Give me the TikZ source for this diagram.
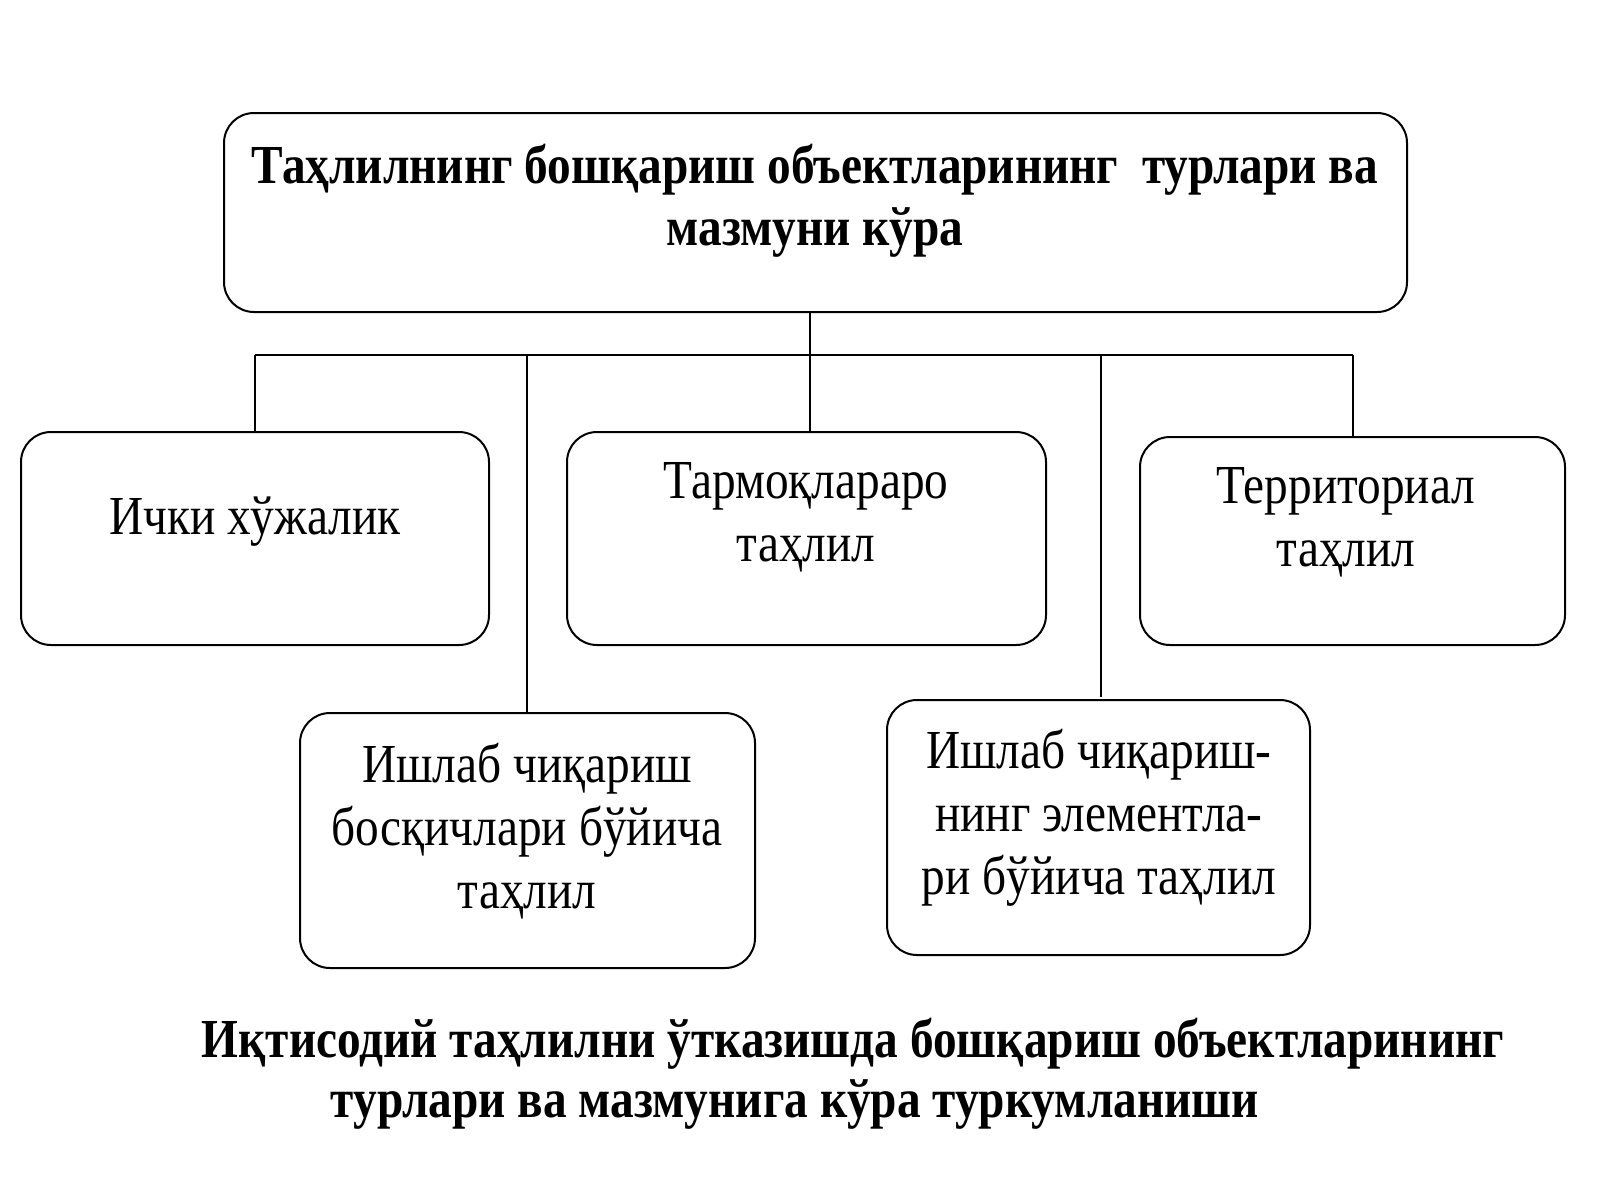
\documentclass[tikz,border=0pt]{standalone}
\usepackage{fontspec}
\setmainfont{Liberation Serif}[FakeStretch=0.86]
\begin{document}
\begin{tikzpicture}[x=1pt,y=-1pt,
 box/.style={draw,line width=2pt,rounded corners=30pt},
 ln/.style={line width=2pt},
 txt/.style={align=center,font=\fontsize{55}{63}\selectfont},
 btxt/.style={align=center,font=\bfseries\fontsize{55}{62}\selectfont}]
\useasboundingbox (0,0) rectangle (1600,1200);
\draw[box] (224,113) rectangle (1407,312);
\node[btxt] (t) at (815,201) {Таҳлилнинг бошқариш объектларининг\ \ турлари ва\\мазмуни кўра};
\draw[box] (21,432) rectangle (489,645);
\node[txt] (a) at (255,522) {Ички хўжалик};
\draw[box] (567,432) rectangle (1046,645);
\node[txt] (b) at (806,517) {Тармоқлараро\\таҳлил};
\draw[box] (1140,437) rectangle (1565,645);
\node[txt] (c) at (1346,522) {Территориал\\таҳлил};
\draw[box] (300,713) rectangle (755,968);
\node[txt] (d) at (527,831) {Ишлаб чиқариш\\босқичлари бўйича\\таҳлил};
\draw[box] (887,700) rectangle (1310,955);
\node[txt] (e) at (1099,818) {Ишлаб чиқариш-\\нинг элементла-\\ри бўйича таҳлил};
\coordinate (h1) at (255,355); \coordinate (h2) at (1353,355);
\draw[ln] (h1) -- (h2);
\draw[ln] (810,312) -- (810,432);
\draw[ln] (255,355) -- (255,432);
\draw[ln] (1353,355) -- (1353,437);
\draw[ln] (527,355) -- (527,713);
\draw[ln] (1101,355) -- (1101,697);
\node[btxt,anchor=base] (cap1) at (853,1057) {Иқтисодий таҳлилни ўтказишда бошқариш объектларининг};
\node[btxt,anchor=base] (cap2) at (795,1117) {турлари ва мазмунига кўра туркумланиши};
\end{tikzpicture}
\end{document}
